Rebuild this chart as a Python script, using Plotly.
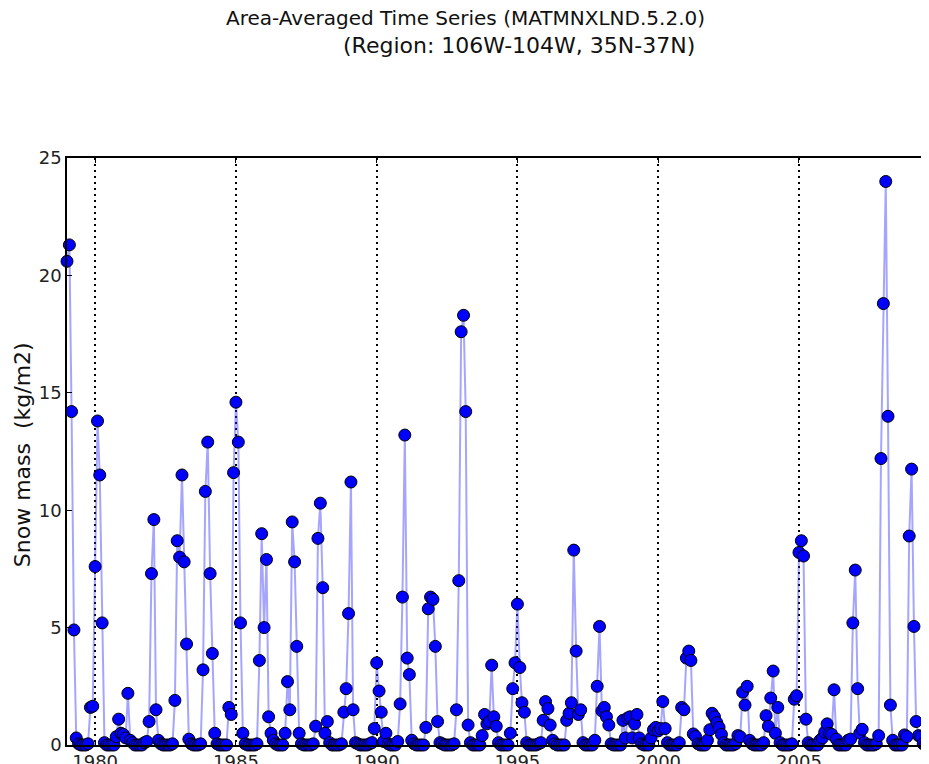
import pandas as pd
import plotly.graph_objects as go

# Monthly area-averaged snow mass (kg/m2), Jan..Dec of each year
snow_1979 = [20.6, 21.3, 14.2, 4.9, 0.3, 0.05, 0, 0, 0, 0.05, 1.6, 1.65]
snow_1980 = [7.6, 13.8, 11.5, 5.2, 0.1, 0, 0, 0, 0, 0.35, 1.1, 0.5]
snow_1981 = [0.45, 0.3, 2.2, 0.2, 0.1, 0, 0, 0, 0, 0.1, 0.15, 1.0]
snow_1982 = [7.3, 9.6, 1.5, 0.2, 0.05, 0, 0, 0, 0, 0.05, 1.9, 8.7]
snow_1983 = [8.0, 11.5, 7.8, 4.3, 0.25, 0.05, 0, 0, 0, 0.05, 3.2, 10.8]
snow_1984 = [12.9, 7.3, 3.9, 0.5, 0.05, 0, 0, 0, 0, 1.6, 1.3, 11.6]
snow_1985 = [14.6, 12.9, 5.2, 0.5, 0.05, 0, 0, 0, 0, 0.05, 3.6, 9.0]
snow_1986 = [5.0, 7.9, 1.2, 0.5, 0.2, 0.05, 0, 0, 0, 0.5, 2.7, 1.5]
snow_1987 = [9.5, 7.8, 4.2, 0.5, 0.05, 0, 0, 0, 0, 0.05, 0.8, 8.8]
snow_1988 = [10.3, 6.7, 0.5, 1.0, 0.1, 0, 0, 0, 0, 0.05, 1.4, 2.4]
snow_1989 = [5.6, 11.2, 1.5, 0.1, 0.05, 0, 0, 0, 0, 0.05, 0.1, 0.7]
snow_1990 = [3.5, 2.3, 1.4, 0.15, 0.5, 0.05, 0, 0, 0, 0.15, 1.75, 6.3]
snow_1991 = [13.2, 3.7, 3.0, 0.2, 0.05, 0, 0, 0, 0, 0.75, 5.8, 6.3]
snow_1992 = [6.2, 4.2, 1.0, 0.1, 0.05, 0, 0, 0, 0, 0.05, 1.5, 7.0]
snow_1993 = [17.6, 18.3, 14.2, 0.85, 0.1, 0, 0, 0, 0, 0.4, 1.3, 0.9]
snow_1994 = [1.0, 3.4, 1.2, 0.8, 0.1, 0, 0, 0, 0, 0.5, 2.4, 3.5]
snow_1995 = [6.0, 3.3, 1.8, 1.4, 0.1, 0, 0, 0, 0, 0.05, 0.1, 1.05]
snow_1996 = [1.85, 1.55, 0.85, 0.2, 0.05, 0, 0, 0, 0, 1.05, 1.35, 1.8]
snow_1997 = [8.3, 4.0, 1.3, 1.5, 0.1, 0, 0, 0, 0, 0.2, 2.5, 5.05]
snow_1998 = [1.45, 1.6, 1.2, 0.85, 0.05, 0, 0, 0, 0, 1.05, 0.3, 1.15]
snow_1999 = [1.2, 0.3, 0.9, 1.3, 0.3, 0.05, 0, 0, 0, 0.3, 0.65, 0.75]
snow_2000 = [0.6, 0.7, 1.85, 0.7, 0.1, 0, 0, 0, 0, 0.1, 1.6, 1.5]
snow_2001 = [3.7, 4.0, 3.6, 0.47, 0.36, 0.05, 0, 0, 0, 0.2, 0.65, 1.35]
snow_2002 = [1.2, 0.95, 0.75, 0.45, 0.1, 0, 0, 0, 0, 0.05, 0.4, 0.35]
snow_2003 = [2.25, 1.7, 2.5, 0.2, 0.05, 0, 0, 0, 0, 0.1, 1.25, 0.8]
snow_2004 = [2.0, 3.15, 0.5, 1.6, 0.1, 0, 0, 0, 0, 0.05, 1.95, 2.1]
snow_2005 = [8.2, 8.7, 8.05, 1.1, 0.1, 0, 0, 0, 0, 0.2, 0.3, 0.55]
snow_2006 = [0.9, 0.5, 0.45, 2.35, 0.25, 0, 0, 0, 0, 0.2, 0.25, 5.2]
snow_2007 = [7.45, 2.4, 0.5, 0.67, 0.1, 0, 0, 0, 0, 0.05, 0.4, 12.2]
snow_2008 = [18.8, 24.0, 14.0, 1.7, 0.2, 0, 0, 0, 0, 0.43, 0.36, 8.9]
snow_2009 = [11.75, 5.05, 1.0, 0.4, 0.35, 0.05, 0, 0, 0, 0.1, 0.2, 1.0]

years = list(range(1979, 2010))
yearly = [snow_1979, snow_1980, snow_1981, snow_1982, snow_1983, snow_1984,
          snow_1985, snow_1986, snow_1987, snow_1988, snow_1989, snow_1990,
          snow_1991, snow_1992, snow_1993, snow_1994, snow_1995, snow_1996,
          snow_1997, snow_1998, snow_1999, snow_2000, snow_2001, snow_2002,
          snow_2003, snow_2004, snow_2005, snow_2006, snow_2007, snow_2008,
          snow_2009]
values = [v for yr in yearly for v in yr]
dates = pd.date_range(f"{years[0]}-01-01", periods=len(values), freq="MS")

tick_years = [1980, 1985, 1990, 1995, 2000, 2005]
tick_labels = [str(y) for y in tick_years]
ytick_vals = [0, 5, 10, 15, 20, 25]

title_line1 = "Area-Averaged Time Series (MATMNXLND.5.2.0)"
title_line2 = "(Region: 106W-104W, 35N-37N)"
y_label = "Snow mass  (kg/m2)"

FONT = "DejaVu Sans"

fig = go.Figure()
fig.add_trace(go.Scatter(
    x=dates, y=values, mode="lines+markers",
    line=dict(color="rgba(40,40,255,0.42)", width=2),
    marker=dict(color="#0000ff", size=12, line=dict(color="black", width=1)),
    cliponaxis=False, showlegend=False,
))
fig.add_trace(go.Scatter(x=[], y=[], yaxis="y2", showlegend=False))

# page body adds an 8px offset, so the figure is 8px smaller than the window
fig.update_layout(
    width=921, height=756,
    margin=dict(l=59, r=0, t=150, b=19),
    paper_bgcolor="white", plot_bgcolor="white",
    font=dict(family=FONT, size=18, color="#111"),
    xaxis=dict(
        type="date",
        range=["1979-01-01", "2009-08-15"],
        tickvals=[f"{y}-01-01" for y in tick_years],
        ticktext=tick_labels,
        ticks="inside", ticklen=5, tickwidth=1.2, tickcolor="black",
        showline=True, linecolor="black", linewidth=1.6, mirror="ticks",
        showgrid=True, gridcolor="black", gridwidth=1.6, griddash="2px,4px",
        zeroline=False, automargin=False,
        tickfont=dict(family=FONT, size=18, color="#222"),
    ),
    yaxis=dict(
        range=[0, 25], tickvals=ytick_vals,
        ticks="inside", ticklen=5, tickwidth=1.2, tickcolor="black",
        showline=True, linecolor="black", linewidth=1.6,
        showgrid=False, zeroline=False, automargin=False,
        tickfont=dict(family=FONT, size=18, color="#222"),
    ),
    yaxis2=dict(
        overlaying="y", side="right", range=[0, 25], tickvals=ytick_vals,
        ticks="inside", ticklen=4, tickwidth=1, tickcolor="#999",
        showticklabels=False, showline=False, showgrid=False, zeroline=False,
    ),
    annotations=[
        dict(text=title_line1, xref="paper", yref="paper", x=0.462, y=1.2385,
             xanchor="center", yanchor="middle", showarrow=False,
             font=dict(family=FONT, size=20, color="#111")),
        dict(text=title_line2, xref="paper", yref="paper", x=0.524, y=1.1925,
             xanchor="center", yanchor="middle", showarrow=False,
             font=dict(family=FONT, size=22, color="#111")),
        dict(text=y_label, xref="paper", yref="paper", x=-0.052, y=0.494,
             xanchor="center", yanchor="middle", showarrow=False, textangle=-90,
             font=dict(family=FONT, size=22, color="#111")),
    ],
)

fig.write_html("out.html")
